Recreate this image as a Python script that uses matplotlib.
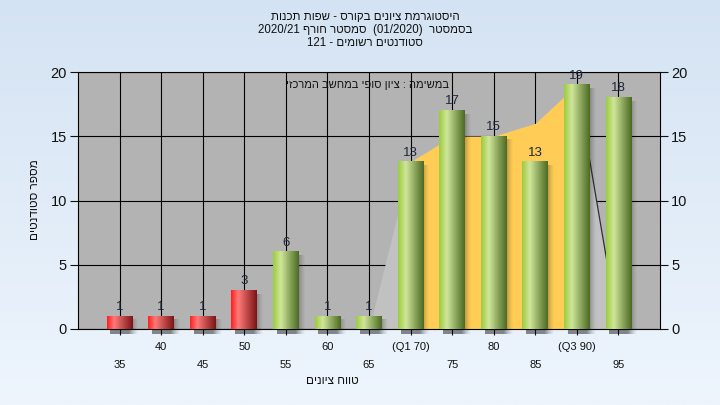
import numpy as np
import matplotlib
matplotlib.use('Agg')
import matplotlib.pyplot as plt
from matplotlib.colors import LinearSegmentedColormap

# grade bins and number of students in each bin
grades = [35, 40, 45, 50, 55, 60, 65, 70, 75, 80, 85, 90, 95]
students = [1, 1, 1, 3, 6, 1, 1, 13, 17, 15, 13, 19, 18]
pass_grade = 55

# two rows of x tick labels
upper_ticks = [40, 50, 60, 70, 80, 90]
upper_labels = ['40', '50', '60', '(Q1 70)', '80', '(Q3 90)']
lower_ticks = [35, 45, 55, 65, 75, 85, 95]
lower_labels = ['35', '45', '55', '65', '75', '85', '95']

# background spread area, Q1..Q3 is yellow
spread_x = [65, 70, 75, 80, 85, 90, 95]
spread_y = [0, 13, 15, 15, 16, 19, 0]
q1, q3 = 70, 90

title_lines = ['היסטוגרמת ציונים בקורס - שפות תכנות',
               'בסמסטר  (01/2020)  סמסטר חורף 2020/21',
               'סטודנטים רשומים - 121']
note = 'במשימה : ציון סופי במחשב המרכזי'
xlabel = 'טווח ציונים'
ylabel = 'מספר סטודנטים'

FONT = ['Liberation Sans', 'DejaVu Sans']
plt.rcParams['font.family'] = FONT


def rtl(s):
    # crude visual ordering for hebrew text (matplotlib has no bidi)
    out = []
    for w in reversed(s.split(' ')):
        if any('\u0590' <= c <= '\u05ff' for c in w):
            w = w[::-1]
        out.append(w)
    return ' '.join(out)


red_cmap = LinearSegmentedColormap.from_list(
    'red', [(0, '#ff1e1e'), (0.28, '#ff7a7a'), (1, '#7a1414')])
green_cmap = LinearSegmentedColormap.from_list(
    'green', [(0, '#9dcb3c'), (0.3, '#cfe69a'), (1, '#4b6a22')])

fig = plt.figure(figsize=(7.2, 4.05), dpi=100)

# page background gradient
bg = fig.add_axes([0, 0, 1, 1], zorder=-5)
bg.imshow(np.linspace(0, 1, 256).reshape(-1, 1),
          cmap=LinearSegmentedColormap.from_list('bg', ['#d4e3f3', '#eef5fd']),
          aspect='auto', extent=(0, 1, 0, 1))
bg.axis('off')

ax = fig.add_axes([78 / 720, 76 / 405, 582 / 720, 257 / 405], zorder=1)
ax.set_facecolor('#b3b3b3')

# spread area
sx = np.array(spread_x, dtype=float)
sy = np.array(spread_y, dtype=float)
ax.fill_between(sx, sy, color='#c1c1c1', lw=0, zorder=2)
ax.fill_between(sx, sy, where=(sx >= q1) & (sx <= q3), color='#ffcc55',
                lw=0, zorder=2.1)
ax.plot(spread_x[-2:], spread_y[-2:], color='#303030', lw=0.9, zorder=2.2)

bw = 3.1
grad = np.linspace(0, 1, 128).reshape(1, -1)
for g, n in zip(grades, students):
    # soft drop shadow
    sh = np.zeros((32, 64, 4))
    fade = np.clip((1 - np.linspace(0, 1, 64)) / 0.35, 0, 1) ** 1.5
    top = np.clip(np.linspace(0, 1, 32) / 0.08, 0, 1)[:, None] ** 0.5
    sh[..., 3] = 0.45 * fade[None, :] * (1 - 0 * top)
    ax.imshow(sh, extent=(g - bw / 2 + 0.45, g + bw / 2 + 0.8, -0.4, n - 0.3),
              aspect='auto', zorder=3, clip_on=False, interpolation='bilinear')
    cmap = red_cmap if g < pass_grade else green_cmap
    ax.imshow(grad, cmap=cmap, extent=(g - bw / 2, g + bw / 2, 0, n),
              aspect='auto', zorder=4, interpolation='bilinear')
    ax.text(g, n + 0.25, str(n), ha='center', va='bottom', fontsize=9.5,
            color='#1e2638', zorder=5)

ax.set_xlim(30, 100)
ax.set_ylim(0, 20)

ax.set_xticks(upper_ticks)
ax.set_xticklabels(upper_labels)
ax.set_xticks(lower_ticks, minor=True)
ax.set_xticklabels(lower_labels, minor=True)
ax.tick_params(axis='x', which='both', direction='out', length=4, width=0.8,
               labelsize=8, colors='#111111')
ax.tick_params(axis='x', which='major', pad=5)
ax.tick_params(axis='x', which='minor', pad=18)

ax.set_yticks([0, 5, 10, 15, 20])
ax.tick_params(axis='y', which='both', left=True, right=True, labelleft=True,
               labelright=True, direction='out', length=6, width=0.8,
               labelsize=10.5, colors='#111111', pad=2)

ax.grid(True, which='both', axis='x', color='black', lw=0.8, zorder=1)
ax.grid(True, which='major', axis='y', color='black', lw=0.8, zorder=1)
ax.set_axisbelow(True)
for s in ax.spines.values():
    s.set_color('black')
    s.set_linewidth(0.8)

ax.text(0.498, 0.949, rtl(note), transform=ax.transAxes, ha='center',
        va='center', fontsize=8, color='#111111', zorder=6)

for i, line in enumerate(title_lines):
    fig.text(365 / 720, 1 - (17 + 13 * i) / 405, rtl(line), ha='center',
             va='center', fontsize=8.3, color='#111111')

fig.text(332 / 720, 1 - 381 / 405, rtl(xlabel), ha='center', va='center',
         fontsize=8.5, color='#111111')
fig.text(35 / 720, 1 - 200 / 405, rtl(ylabel), ha='center', va='center',
         rotation=90, fontsize=8.5, color='#111111')

fig.savefig('out.png', dpi=100)
